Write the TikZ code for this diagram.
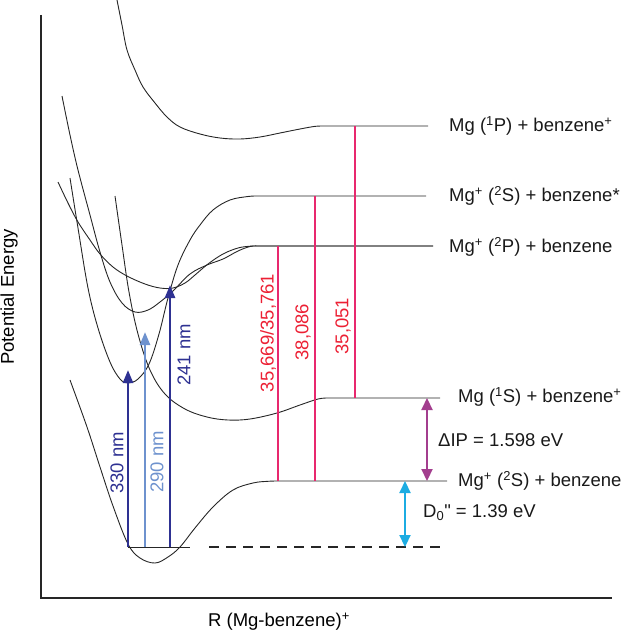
\documentclass[tikz,border=0pt]{standalone}
\usepackage{fontspec}
\setmainfont{Liberation Sans}[Ligatures=TeXOff]
\usetikzlibrary{arrows.meta,positioning,calc}
\definecolor{uvdark}{RGB}{46,49,146}
\definecolor{uvlight}{RGB}{110,146,206}
\definecolor{transition}{RGB}{232,40,110}
\definecolor{wavenumber}{RGB}{236,32,52}
\definecolor{ionization}{RGB}{163,62,142}
\definecolor{binding}{RGB}{28,172,226}
\tikzstyle{curve}=[line width=.9pt, black!85]
\tikzstyle{axis}=[line width=1.4pt, black!85]
\tikzstyle{statelabel}=[anchor=west, inner sep=0pt, text=black!90]
\tikzstyle{uv}=[line width=2.5pt, -{Triangle[width=10pt,length=13pt]}]
\tikzstyle{gap}=[line width=2.2pt, {Triangle[width=11pt,length=12pt]}-{Triangle[width=11pt,length=12pt]}]
\tikzset{probe/.style={line width=1.05pt, draw=transition}}
\tikzset{x=1pt}
\tikzset{y=-1pt}

\begin{document}
\begin{tikzpicture}[font=\fontsize{18.5}{22}\selectfont]
  \useasboundingbox (0,0) rectangle (623,634);
  %% axes
  \coordinate (ytop) at (41,15);
  \coordinate (origin) at (41,598);
  \coordinate (xend) at (612,598);
  \draw[axis] (ytop) -- (origin) -- (xend);
  \draw (9,297) node[rotate=90] (ylabel) {Potential Energy};
  \draw (279,622) node (xlabel) {R (Mg-benzene)\textsuperscript{+}};

  %% potential curves
  \draw[curve] plot[smooth,tension=.6] coordinates {(117,0) (122,25) (127,50) (135,70) (143,87) (155,103) (167,117) (180,127) (200,134) (220,138) (240,139) (260,137) (280,133) (300,129) (314,126.5) (322,126)} -- (428,126);
  \draw[curve] plot[smooth,tension=.6] coordinates {(70,178) (78,228) (88,288) (98,328) (110,362) (120,379) (128,383) (138,379) (149,364) (159,334) (168,298) (178,265) (190,240) (200,225) (213,210) (230,200) (248,196.5) (258,196)} -- (426,196);
  \draw[curve] plot[smooth,tension=.6] coordinates {(62,96) (70,135) (78,170) (90,215) (100,252) (110,282) (122,303) (135,312) (148,310) (160,302) (173,291) (190,274) (207,265) (223,259) (238,251) (250,246.5) (258,246)} -- (433,246);
  \draw[curve] plot[smooth,tension=.6] coordinates {(58,182) (68,203) (78,222) (90,240) (100,254) (113,267) (127,276) (145,284) (160,288) (173,288) (185,283) (195,275) (208,264) (223,254) (238,248) (250,246.2) (258,246)} -- (433,246);
  \draw[curve] plot[smooth,tension=.6] coordinates {(115,196) (122,245) (129,292) (138,334) (150,370) (165,394) (185,409) (207,417) (228,420) (250,419) (277,413) (300,405) (318,399) (328,398)} -- (440,398);
  \draw[curve] plot[smooth,tension=.6] coordinates {(70,380) (87,427) (100,467) (113,506) (128,544) (140,558) (155,563) (168,557) (180,547) (195,528) (213,507) (233,490) (253,483) (268,481.3) (278,481)} -- (447,481);

  %% zero point level
  \coordinate (v0a) at (128,547);
  \coordinate (v0b) at (190,547);
  \coordinate (d0a) at (209,547);
  \coordinate (d0b) at (440,547);
  \draw[curve] (v0a) -- (v0b);
  \draw[curve, line width=1.4pt, dash pattern=on 10pt off 7pt] (d0a) -- (d0b);

  %% excitation arrows
  \coordinate (e330) at (128,370);
  \coordinate (g290) at (145,547);
  \coordinate (e290) at (145,332);
  \coordinate (g241) at (170,547);
  \coordinate (e241) at (170,285);
  \draw[uv, uvdark] (v0a) -- (e330);
  \draw[uv, uvlight] (g290) -- (e290);
  \draw[uv, uvdark] (g241) -- (e241);
  \draw (117,463) node[rotate=90, text=uvdark] (l330) {330 nm};
  \draw (157,462) node[rotate=90, text=uvlight] (l290) {290 nm};
  \draw (184,355) node[rotate=90, text=uvdark] (l241) {241 nm};

  %% observed transitions
  \coordinate (t1a) at (278,246);
  \coordinate (t1b) at (278,481);
  \coordinate (t2a) at (315,196);
  \coordinate (t2b) at (315,481);
  \coordinate (t3a) at (355,126);
  \coordinate (t3b) at (355,398);
  \draw[probe] (t1a) -- (t1b);
  \draw[probe] (t2a) -- (t2b);
  \draw[probe] (t3a) -- (t3b);
  \draw (268,333) node[rotate=90, text=wavenumber] (w1) {35,669/35,761};
  \draw (303,332) node[rotate=90, text=wavenumber] (w2) {38,086};
  \draw (343,326) node[rotate=90, text=wavenumber] (w3) {35,051};

  %% energy gaps
  \coordinate (ip1) at (427,398);
  \coordinate (ip2) at (427,481);
  \coordinate (db1) at (405,481);
  \coordinate (db2) at (405,547);
  \draw[gap, ionization] (ip1) -- (ip2);
  \draw[gap, binding] (db1) -- (db2);
  \draw (438,440) node[statelabel] (dIP) {ΔIP = 1.598 eV};
  \draw (423,513) node[statelabel] (D0) {D\textsubscript{0}" = 1.39 eV};

  %% asymptotes
  \draw (449,126) node[statelabel] (s1P) {Mg (\textsuperscript{1}P) + benzene\textsuperscript{+}};
  \draw (449,196) node[statelabel] (s2Sx) {Mg\textsuperscript{+} (\textsuperscript{2}S) + benzene*};
  \draw (449,247) node[statelabel] (s2P) {Mg\textsuperscript{+} (\textsuperscript{2}P) + benzene};
  \draw (458,397) node[statelabel] (s1S) {Mg (\textsuperscript{1}S) + benzene\textsuperscript{+}};
  \draw (458,481) node[statelabel] (s2S) {Mg\textsuperscript{+} (\textsuperscript{2}S) + benzene};
\end{tikzpicture}
\end{document}
